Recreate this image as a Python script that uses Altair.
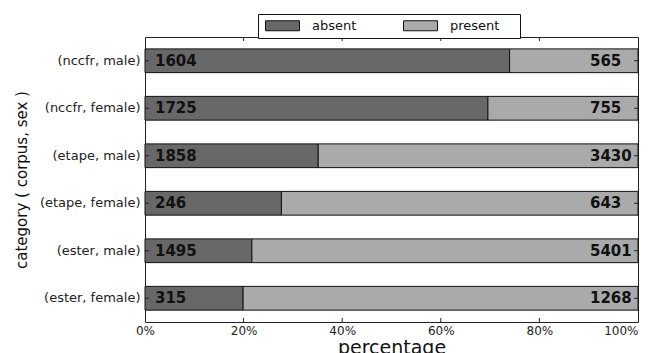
import altair as alt
import pandas as pd

categories = ["(nccfr, male)", "(nccfr, female)", "(etape, male)",
              "(etape, female)", "(ester, male)", "(ester, female)"]
absent = [1604, 1725, 1858, 246, 1495, 315]
present = [565, 755, 3430, 643, 5401, 1268]
statuses = ["absent", "present"]
status_colors = ["#686868", "#aaaaaa"]
x_ticks = [0, 20, 40, 60, 80, 100]

rows = []
for c, a, p in zip(categories, absent, present):
    total = a + p
    pa = a / total * 100
    rows.append({"category": c, "status": "absent", "start": 0, "end": pa, "count": a})
    rows.append({"category": c, "status": "present", "start": pa, "end": 100, "count": p})
df = pd.DataFrame(rows)
cat_df = pd.DataFrame({"category": categories})
tick_df = pd.DataFrame({"tick": x_ticks[1:-1]})

FONT = "DejaVu Sans"
INK = "#222222"
x_scale = alt.Scale(domain=[0, 100], nice=False, zero=False)
y_scale = alt.Scale(paddingInner=0.5, paddingOuter=0.25)

base = alt.Chart(df)

bars = base.mark_bar(stroke="#111111", strokeWidth=1).encode(
    x=alt.X("start:Q", scale=x_scale,
            axis=alt.Axis(values=x_ticks, labelExpr="datum.value + '%'", ticks=False,
                          grid=False, domain=False, labelFlush=False, labelPadding=3,
                          labelAlign=alt.condition("datum.value == 100",
                                                   alt.value("right"), alt.value("center")),
                          labelFontSize=12, labelFont=FONT, labelColor=INK,
                          title="percentage", titleFont=FONT, titleFontSize=19,
                          titleFontWeight="normal", titleColor="#111111",
                          titlePadding=2)),
    x2="end:Q",
    y=alt.Y("category:N", sort=categories, scale=y_scale,
            axis=alt.Axis(title="category ( corpus, sex )", ticks=False, domain=False,
                          labelPadding=5, labelFontSize=13, labelFont=FONT,
                          labelColor=INK, titleFont=FONT, titleFontSize=15,
                          titleFontWeight="normal", titleColor="#111111",
                          titlePadding=10)),
    color=alt.Color("status:N",
                    scale=alt.Scale(domain=statuses, range=status_colors),
                    legend=alt.Legend(orient="none", legendX=113, legendY=-23,
                                      direction="horizontal",
                                      title="\u00b7", titleOrient="right",
                                      titleColor="white", titleFontSize=13,
                                      titlePadding=11,
                                      symbolType="M-3.4,-1L3.4,-1L3.4,1L-3.4,1Z",
                                      symbolSize=100, symbolOffset=13,
                                      symbolStrokeColor="#111111",
                                      symbolStrokeWidth=1, labelFont=FONT,
                                      labelFontSize=13, labelColor="#111111",
                                      labelOffset=23, columnPadding=44, padding=5,
                                      strokeColor="#111111", fillColor="white",
                                      cornerRadius=0)),
)

left_text = base.transform_filter(alt.datum.status == "absent").mark_text(
    align="left", baseline="middle", dx=10, font=FONT, fontSize=15,
    fontWeight="bold", color="#111111"
).encode(
    x=alt.X("start:Q", scale=x_scale),
    y=alt.Y("category:N", sort=categories, scale=y_scale),
    text="count:N",
)

right_text = base.transform_filter(alt.datum.status == "present").mark_text(
    align="left", baseline="middle", dx=-48, font=FONT, fontSize=15,
    fontWeight="bold", color="#111111"
).encode(
    x=alt.X("end:Q", scale=x_scale),
    y=alt.Y("category:N", sort=categories, scale=y_scale),
    text="count:N",
)

# inward tick marks (matplotlib style) on all four sides
ytick_left = alt.Chart(cat_df).mark_rule(color=INK, strokeWidth=1).encode(
    y=alt.Y("category:N", sort=categories, scale=y_scale, bandPosition=0.5),
    x=alt.value(0), x2=alt.value(4))
ytick_right = alt.Chart(cat_df).mark_rule(color=INK, strokeWidth=1).encode(
    y=alt.Y("category:N", sort=categories, scale=y_scale, bandPosition=0.5),
    x=alt.value(489), x2=alt.value(493))
xtick_bottom = alt.Chart(tick_df).mark_rule(color=INK, strokeWidth=1).encode(
    x=alt.X("tick:Q", scale=x_scale), y=alt.value(281), y2=alt.value(285))
xtick_top = alt.Chart(tick_df).mark_rule(color=INK, strokeWidth=1).encode(
    x=alt.X("tick:Q", scale=x_scale), y=alt.value(0), y2=alt.value(4))

chart = alt.layer(bars, left_text, right_text, ytick_left, ytick_right,
                  xtick_bottom, xtick_top).properties(
    width=493, height=285,
    padding={"left": 137, "top": 29, "right": 10, "bottom": 31},
    autosize=alt.AutoSizeParams(type="none"),
    background="white",
).configure_view(stroke="#222222", strokeWidth=1)

chart.save("out.html", embed_options={"renderer": "svg", "actions": False})
